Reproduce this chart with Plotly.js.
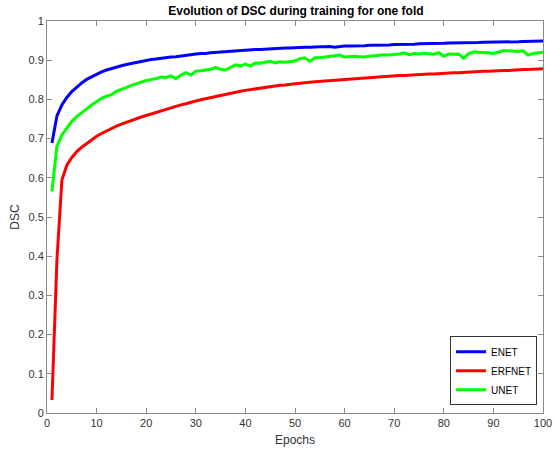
<!DOCTYPE html>
<html>
<head>
<meta charset="utf-8">
<script src="https://cdn.plot.ly/plotly-3.0.1.min.js"></script>
<style>
html,body{margin:0;padding:0;background:#fff;}
#chart{width:554px;height:456px;}
</style>
</head>
<body>
<div id="chart"></div>
<script>
const epochs = Array.from({length: 100}, (_, i) => i + 1);

const enet = [
  0.689, 0.758, 0.786, 0.805, 0.820, 0.832, 0.842, 0.851, 0.858, 0.864,
  0.870, 0.875, 0.879, 0.883, 0.886, 0.889, 0.892, 0.895, 0.897, 0.900,
  0.902, 0.903, 0.905, 0.906, 0.908, 0.909, 0.911, 0.913, 0.914, 0.916,
  0.917, 0.917, 0.919, 0.920, 0.921, 0.922, 0.922, 0.924, 0.925, 0.925,
  0.926, 0.927, 0.927, 0.928, 0.929, 0.929, 0.930, 0.931, 0.931, 0.932,
  0.932, 0.933, 0.933, 0.934, 0.934, 0.934, 0.935, 0.933, 0.935, 0.936,
  0.936, 0.936, 0.937, 0.937, 0.938, 0.938, 0.938, 0.939, 0.939, 0.940,
  0.940, 0.941, 0.941, 0.941, 0.942, 0.942, 0.942, 0.943, 0.943, 0.943,
  0.944, 0.944, 0.944, 0.945, 0.945, 0.945, 0.945, 0.946, 0.946, 0.946,
  0.946, 0.947, 0.947, 0.947, 0.947, 0.948, 0.948, 0.948, 0.948, 0.949
];

const erfnet = [
  0.033, 0.390, 0.594, 0.632, 0.652, 0.667, 0.678, 0.688, 0.697, 0.706,
  0.713, 0.720, 0.726, 0.732, 0.737, 0.742, 0.747, 0.751, 0.755, 0.759,
  0.763, 0.767, 0.771, 0.775, 0.779, 0.782, 0.786, 0.789, 0.793, 0.796,
  0.799, 0.802, 0.805, 0.808, 0.811, 0.813, 0.816, 0.818, 0.821, 0.823,
  0.825, 0.827, 0.829, 0.831, 0.833, 0.834, 0.836, 0.837, 0.839, 0.840,
  0.841, 0.843, 0.844, 0.845, 0.846, 0.847, 0.848, 0.849, 0.850, 0.851,
  0.852, 0.853, 0.854, 0.855, 0.856, 0.857, 0.858, 0.858, 0.859, 0.860,
  0.861, 0.861, 0.862, 0.863, 0.863, 0.864, 0.865, 0.865, 0.866, 0.866,
  0.867, 0.868, 0.868, 0.869, 0.869, 0.870, 0.871, 0.872, 0.872, 0.873,
  0.873, 0.874, 0.874, 0.875, 0.875, 0.876, 0.876, 0.877, 0.877, 0.878
];

const unet = [
  0.565, 0.681, 0.709, 0.728, 0.744, 0.756, 0.766, 0.778, 0.786, 0.794,
  0.803, 0.808, 0.812, 0.821, 0.825, 0.830, 0.836, 0.841, 0.844, 0.848,
  0.850, 0.853, 0.857, 0.856, 0.860, 0.853, 0.862, 0.868, 0.862, 0.872,
  0.873, 0.875, 0.877, 0.881, 0.877, 0.875, 0.882, 0.888, 0.885, 0.890,
  0.885, 0.893, 0.892, 0.894, 0.897, 0.893, 0.896, 0.895, 0.897, 0.898,
  0.904, 0.906, 0.897, 0.906, 0.906, 0.908, 0.910, 0.911, 0.913, 0.908,
  0.909, 0.910, 0.909, 0.908, 0.910, 0.911, 0.913, 0.914, 0.913, 0.914,
  0.916, 0.919, 0.914, 0.917, 0.916, 0.918, 0.917, 0.915, 0.919, 0.910,
  0.916, 0.915, 0.916, 0.905, 0.917, 0.921, 0.920, 0.920, 0.919, 0.917,
  0.921, 0.924, 0.924, 0.923, 0.922, 0.924, 0.913, 0.917, 0.919, 0.920
];

const seriesNames = ["ENET", "ERFNET", "UNET"];
const seriesColors = ["#0000ff", "#ff0000", "#00ff00"];
const seriesData = [enet, erfnet, unet];

const xTicks = [0, 10, 20, 30, 40, 50, 60, 70, 80, 90, 100];
const yTicks = [0, 0.1, 0.2, 0.3, 0.4, 0.5, 0.6, 0.7, 0.8, 0.9, 1];
const yTickLabels = ["0", "0.1", "0.2", "0.3", "0.4", "0.5", "0.6", "0.7", "0.8", "0.9", "1"];

const traces = seriesData.map((d, i) => ({
  x: epochs,
  y: d,
  type: "scatter",
  mode: "lines",
  name: seriesNames[i],
  line: {color: seriesColors[i], width: 3}
}));

const FONT = "Liberation Sans, Arial, Helvetica, sans-serif";

const axisCommon = {
  showgrid: false,
  zeroline: false,
  showline: true,
  linecolor: "#8a8a8a",
  linewidth: 1,
  mirror: "allticks",
  ticks: "inside",
  ticklen: 5,
  tickcolor: "#8a8a8a",
  tickfont: {family: FONT, size: 11, color: "#333333"}
};

const layout = {
  width: 554,
  height: 456,
  margin: {l: 47, r: 11, t: 21, b: 43},
  paper_bgcolor: "#ffffff",
  plot_bgcolor: "#ffffff",
  font: {family: FONT, color: "#333333"},
  title: {
    text: "<b>Evolution of DSC during training for one fold</b>",
    font: {family: FONT, size: 12, color: "#000000"},
    x: 0.5342, xref: "container", xanchor: "center",
    y: 0.976, yref: "container", yanchor: "middle"
  },
  xaxis: Object.assign({}, axisCommon, {
    range: [0, 100],
    tickvals: xTicks,
    ticktext: xTicks.map(String),
    title: {text: "Epochs", font: {family: FONT, size: 12, color: "#333333"}, standoff: 7}
  }),
  yaxis: Object.assign({}, axisCommon, {
    range: [0, 1],
    tickvals: yTicks,
    ticktext: yTickLabels,
    title: {text: "DSC", font: {family: FONT, size: 12, color: "#333333"}, standoff: 6}
  }),
  showlegend: true,
  legend: {
    x: 0.988, xanchor: "right",
    y: 0.02, yanchor: "bottom",
    bgcolor: "#ffffff",
    bordercolor: "#333333",
    borderwidth: 1,
    font: {family: FONT, size: 10, color: "#000000"},
    tracegroupgap: 0,
    itemwidth: 30
  }
};

Plotly.newPlot("chart", traces, layout, {displayModeBar: false, staticPlot: true});
</script>
</body>
</html>
